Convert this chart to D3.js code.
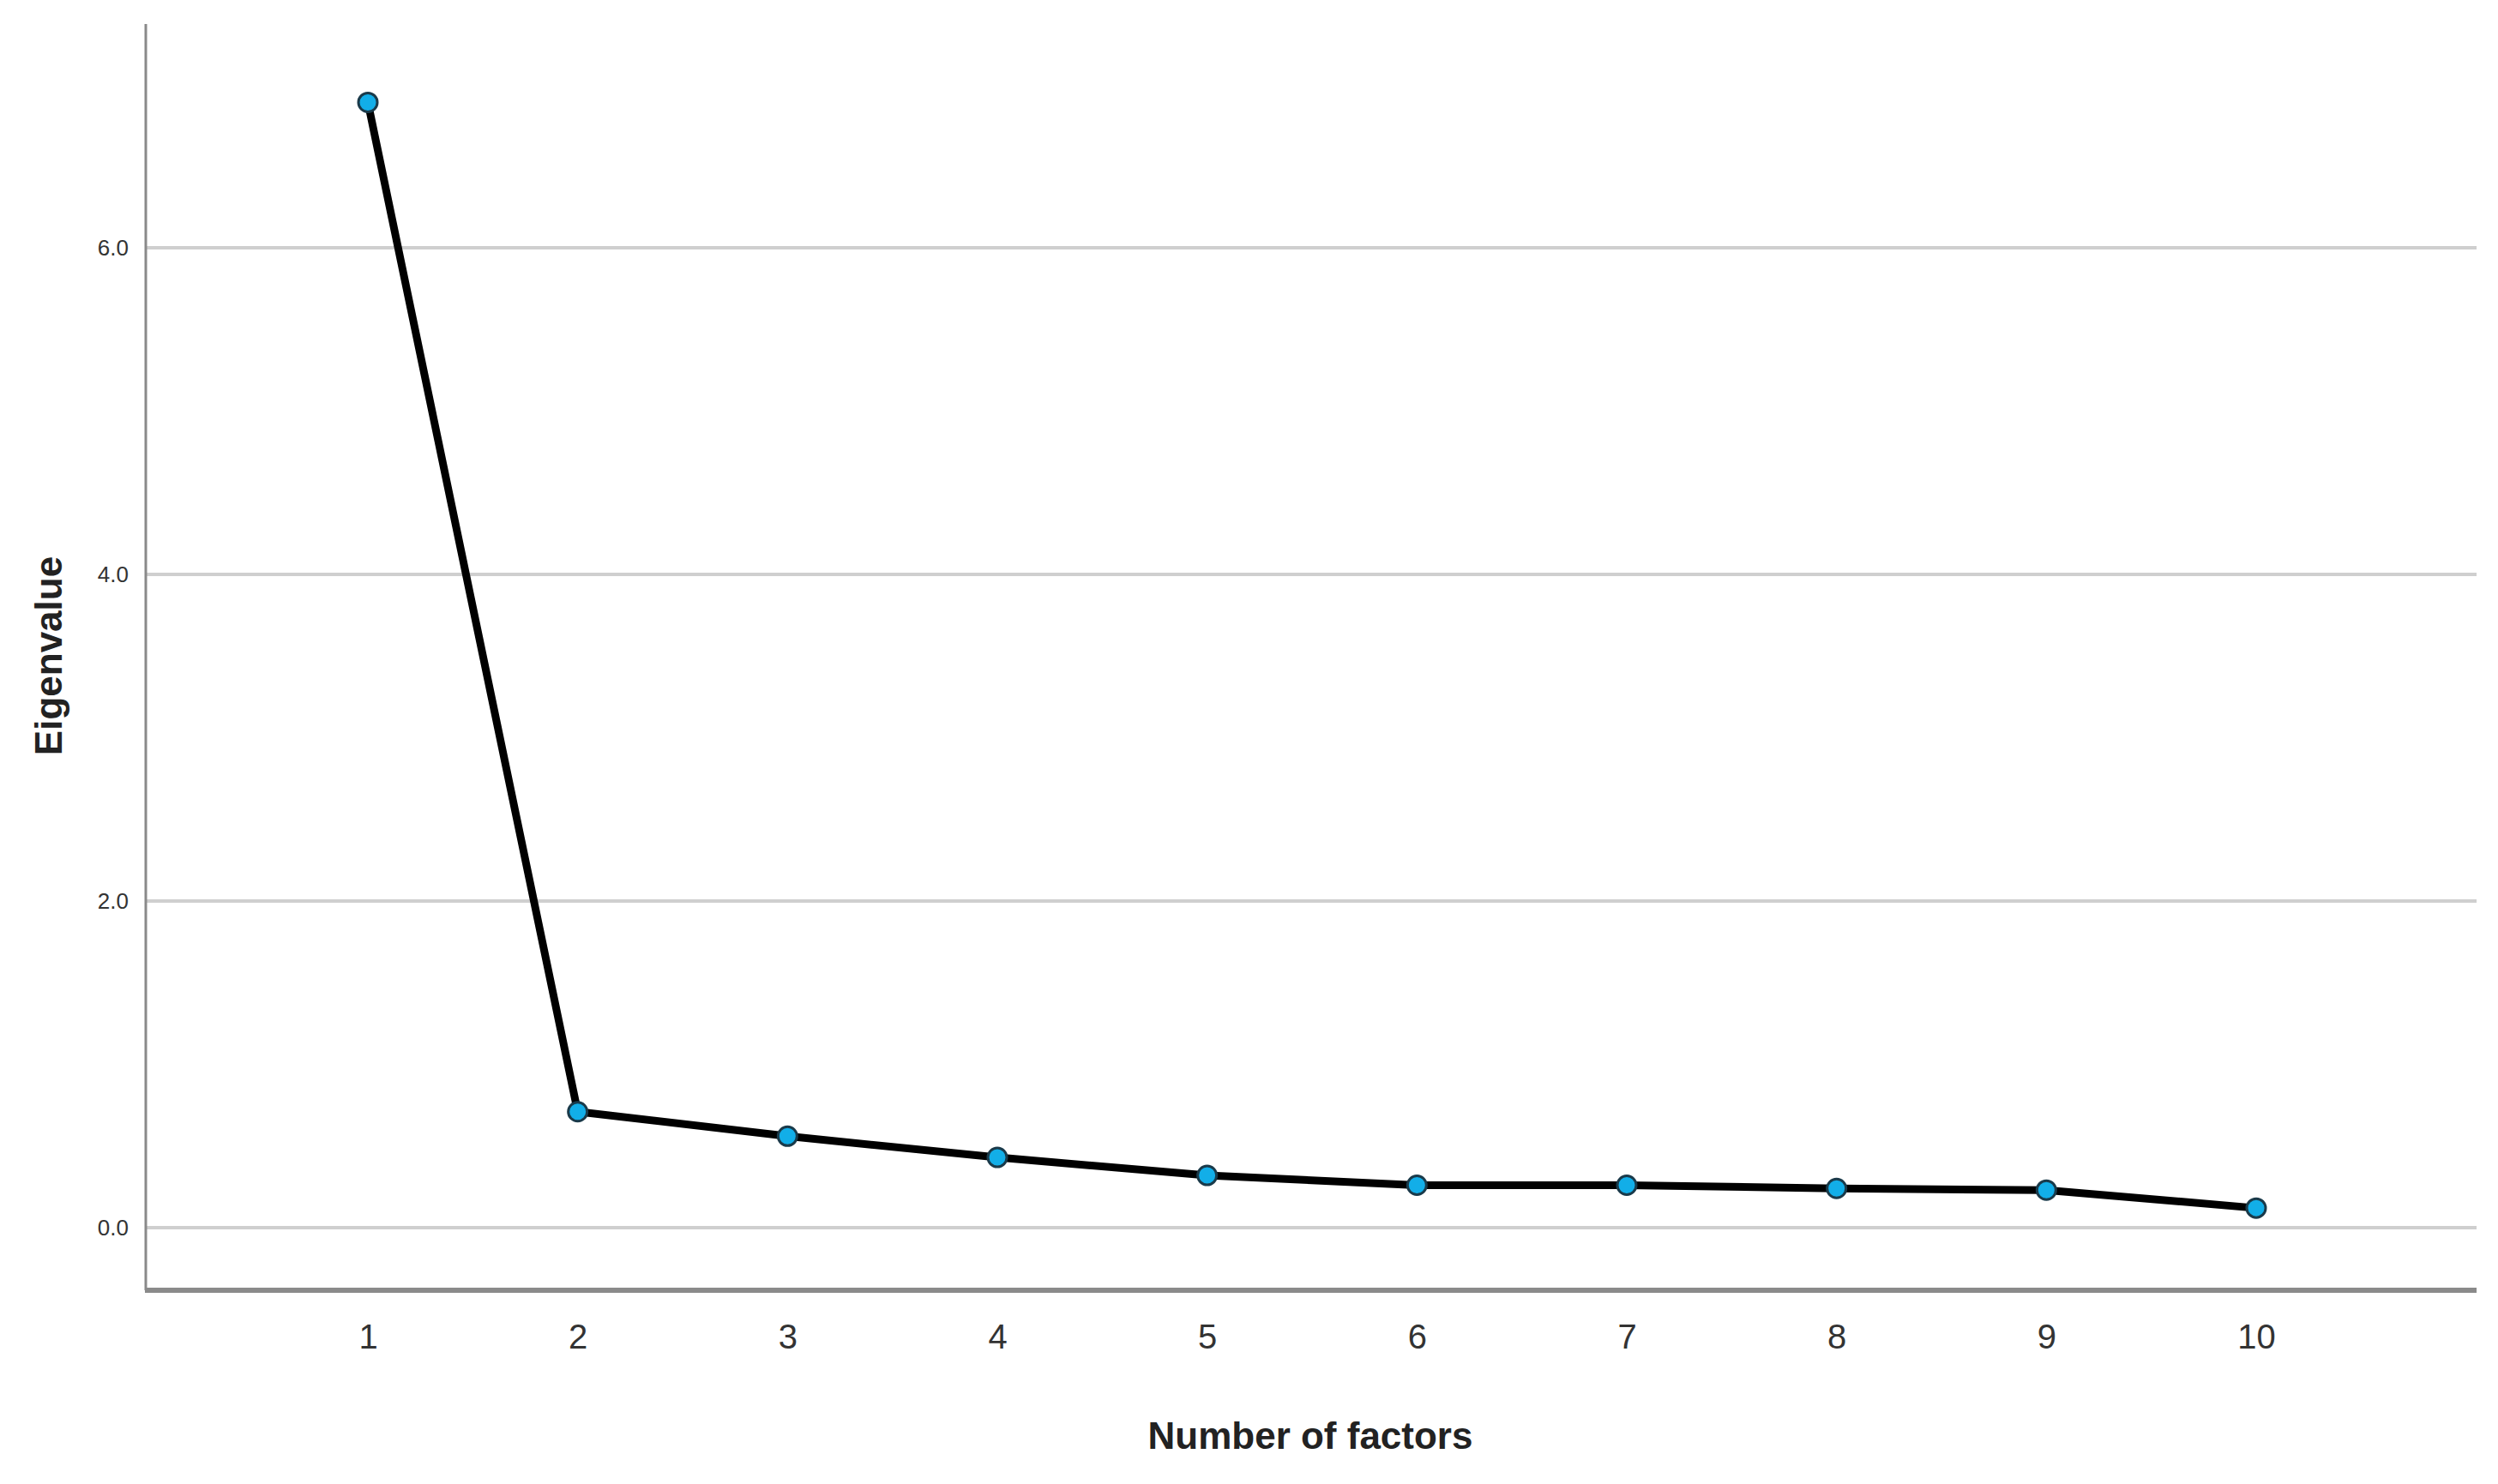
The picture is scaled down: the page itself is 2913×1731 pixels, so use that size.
<!DOCTYPE html>
<html><head><meta charset="utf-8">
<script src="https://cdn.jsdelivr.net/npm/d3@7"></script>
<style>body{margin:0;background:#fff}</style></head>
<body><svg id="c" width="2913" height="1731"></svg>
<script>
const factors = [1,2,3,4,5,6,7,8,9,10];
const eigenvalues = [6.89,0.71,0.56,0.43,0.32,0.26,0.26,0.24,0.23,0.12];
const yTicks = [0,2,4,6];

(function(){
const svg = d3.select("#c");
const x = d3.scaleLinear().domain([1,10]).range([429,2631]);
const y = d3.scaleLinear().domain([0,6]).range([1432,289]);
const pLeft = 170, pRight = 2888, pTop = 28, pBottom = 1505;

svg.append("g").selectAll("line").data(yTicks).join("line")
  .attr("x1",pLeft).attr("x2",pRight).attr("y1",d=>y(d)).attr("y2",d=>y(d))
  .attr("stroke","#cfcfcf").attr("stroke-width",4);

const ya = svg.append("g").attr("transform",`translate(${pLeft},0)`)
  .call(d3.axisLeft(y).tickValues(yTicks).tickSize(0).tickPadding(20));
ya.select(".domain").remove();
ya.selectAll("text").attr("font-family","Arial, Liberation Sans, sans-serif").attr("font-size",26).attr("fill","#333");
svg.append("line").attr("x1",pLeft).attr("x2",pLeft).attr("y1",pTop).attr("y2",pBottom).attr("stroke","#8a8a8a").attr("stroke-width",3);

const xa = svg.append("g").attr("transform",`translate(0,${pBottom})`)
  .call(d3.axisBottom(x).tickValues(factors).tickFormat(d3.format("d")).tickSize(0).tickPadding(40));
xa.select(".domain").remove();
xa.selectAll("text").attr("font-family","Arial, Liberation Sans, sans-serif").attr("font-size",40).attr("fill","#333");
svg.append("line").attr("x1",pLeft-1).attr("x2",pRight).attr("y1",pBottom).attr("y2",pBottom).attr("stroke","#8a8a8a").attr("stroke-width",6);

svg.append("path").datum(factors.map((f,i)=>[f,eigenvalues[i]]))
  .attr("d",d3.line().x(d=>x(d[0])).y(d=>y(d[1])))
  .attr("fill","none").attr("stroke","#000").attr("stroke-width",9).attr("stroke-linejoin","round");

svg.append("g").selectAll("circle").data(factors).join("circle")
  .attr("cx",d=>x(d)).attr("cy",(d,i)=>y(eigenvalues[i])).attr("r",11)
  .attr("fill","#12aee8").attr("stroke","#1a3a4a").attr("stroke-width",3);

svg.append("text").attr("x",1528).attr("y",1690).attr("text-anchor","middle")
  .attr("font-family","Arial, Liberation Sans, sans-serif").attr("font-weight","bold").attr("font-size",44).attr("fill","#222")
  .text("Number of factors");
svg.append("text").attr("transform","translate(72,765) rotate(-90)").attr("text-anchor","middle")
  .attr("font-family","Arial, Liberation Sans, sans-serif").attr("font-weight","bold").attr("font-size",44).attr("fill","#222")
  .text("Eigenvalue");
})();
</script></body></html>
